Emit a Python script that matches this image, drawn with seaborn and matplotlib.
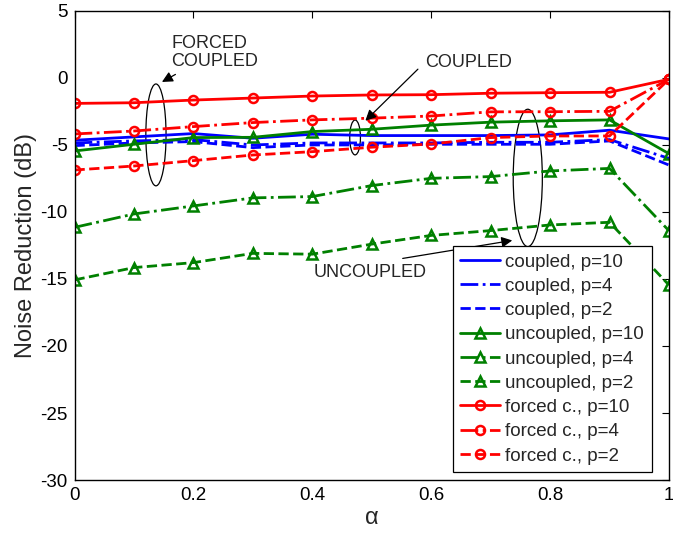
import numpy as np
import pandas as pd
import matplotlib
matplotlib.use("Agg")
import matplotlib.pyplot as plt
from matplotlib.patches import Ellipse
import seaborn as sns

alpha = [0.0, 0.1, 0.2, 0.3, 0.4, 0.5, 0.6, 0.7, 0.8, 0.9, 1.0]

coupled_p10 = [-4.65, -4.4, -4.15, -4.5, -4.2, -4.3, -4.3, -4.3, -4.25, -3.9, -4.55]
coupled_p4 = [-4.85, -4.7, -4.6, -5.0, -4.85, -4.85, -4.85, -4.8, -4.8, -4.6, -6.0]
coupled_p2 = [-5.05, -4.85, -4.75, -5.2, -5.0, -5.0, -4.95, -4.95, -4.95, -4.7, -6.5]

uncoupled_p10 = [-5.45, -4.95, -4.45, -4.43, -4.0, -3.83, -3.52, -3.3, -3.2, -3.13, -5.65]
uncoupled_p4 = [-11.15, -10.15, -9.55, -8.95, -8.85, -8.03, -7.49, -7.36, -6.94, -6.75, -11.4]
uncoupled_p2 = [-15.07, -14.15, -13.78, -13.09, -13.15, -12.4, -11.75, -11.39, -10.97, -10.77, -15.45]

forced_p10 = [-1.9, -1.85, -1.65, -1.5, -1.35, -1.27, -1.25, -1.14, -1.1, -1.07, -0.1]
forced_p4 = [-4.18, -3.96, -3.63, -3.33, -3.13, -3.0, -2.84, -2.53, -2.52, -2.49, -0.1]
forced_p2 = [-6.87, -6.57, -6.17, -5.75, -5.5, -5.17, -4.93, -4.45, -4.33, -4.33, -0.1]

labels = ["coupled, p=10", "coupled, p=4", "coupled, p=2",
          "uncoupled, p=10", "uncoupled, p=4", "uncoupled, p=2",
          "forced c., p=10", "forced c., p=4", "forced c., p=2"]
series = [coupled_p10, coupled_p4, coupled_p2,
          uncoupled_p10, uncoupled_p4, uncoupled_p2,
          forced_p10, forced_p4, forced_p2]

yticks = [5, 0, -5, -10, -15, -20, -25, -30]
xticks = [0, 0.2, 0.4, 0.6, 0.8, 1]

sns.set_style("white")
plt.rcParams['font.family'] = ['Liberation Sans', 'DejaVu Sans']
plt.rcParams['axes.unicode_minus'] = False

fig = plt.figure(figsize=(6.73, 5.33), dpi=100)
ax = fig.add_axes([0.1107, 0.0994, 0.994 - 0.1107, 0.9795 - 0.0994])

blue = (0, 0, 1)
green = (0, 0.5, 0)
red = (1, 0, 0)
styles = [
    (blue, '-', None), (blue, '-.', None), (blue, '--', None),
    (green, '-', '^'), (green, '-.', '^'), (green, '--', '^'),
    (red, '-', 'o'), (red, '-.', 'o'), (red, '--', 'o'),
]

for vals, lab, (c, ls, mk) in zip(series, labels, styles):
    df = pd.DataFrame({"alpha": alpha, "nr": vals})
    kw = dict(color=c, linestyle=ls, linewidth=2.0, label=lab)
    if mk is not None:
        kw.update(marker=mk, markersize=6.5, markerfacecolor='none',
                  markeredgecolor=c, markeredgewidth=1.8)
    sns.lineplot(data=df, x="alpha", y="nr", ax=ax, **kw)

ax.set_xlim(0, 1)
ax.set_ylim(-30, 5)
ax.set_xticks(xticks)
ax.set_xticklabels([f"{t:g}" for t in xticks])
ax.set_yticks(yticks)
ax.set_yticklabels([f"{t:d}" for t in yticks])
ax.tick_params(direction='in', length=5, width=0.8, top=True, right=True,
               labelsize=13.5, colors='black', pad=5)
for s in ax.spines.values():
    s.set_color('black')
    s.set_linewidth(1.0)
ax.set_xlabel("α", fontsize=17, labelpad=2)
ax.set_ylabel("Noise Reduction (dB)", fontsize=17, labelpad=2)

# annotations: ellipses
ell_kw = dict(fill=False, edgecolor='black', linewidth=0.9)
ax.add_patch(Ellipse((0.137, -4.25), 0.034, 7.6, **ell_kw))
ax.add_patch(Ellipse((0.472, -4.44), 0.018, 2.6, **ell_kw))
ax.add_patch(Ellipse((0.7625, -7.46), 0.049, 10.25, **ell_kw))

arrow = dict(arrowstyle='-|>', color='black', lw=0.9, mutation_scale=16)
ax.annotate("FORCED\nCOUPLED", xy=(0.143, -0.4), xytext=(0.163, 1.9),
            fontsize=13, ha='left', va='center', linespacing=1.05,
            arrowprops=arrow)
ax.annotate("", xy=(0.486, -3.34), xytext=(0.581, 0.8), arrowprops=arrow)
ax.text(0.59, 1.16, "COUPLED", fontsize=13, ha='left', va='center')
ax.annotate("", xy=(0.741, -12.09), xytext=(0.5475, -13.5), arrowprops=arrow)
ax.text(0.402, -14.48, "UNCOUPLED", fontsize=13, ha='left', va='center')

leg = ax.legend(loc='lower right', bbox_to_anchor=(0.971, 0.017),
                fontsize=13.5, frameon=True, fancybox=False, framealpha=1,
                edgecolor='black', handlelength=2.1, handletextpad=0.3,
                labelspacing=0.38, borderpad=0.4, borderaxespad=0)
leg.get_frame().set_linewidth(0.9)

fig.savefig("out.png", dpi=100)
